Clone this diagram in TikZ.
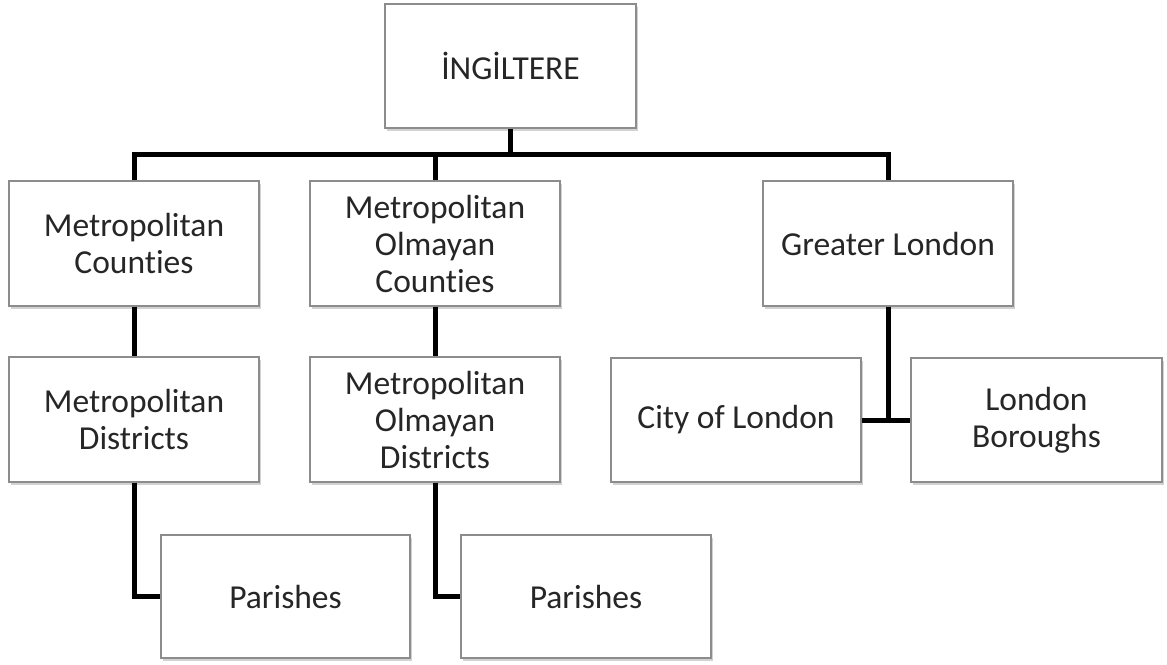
\documentclass[tikz,border=0pt]{standalone}
\usepackage{fontspec}
\setmainfont{Carlito}[Ligatures={NoCommon}]
\usetikzlibrary{shadows}
\tikzset{
  box/.style={draw=black!45, line width=1.2pt, fill=white, align=center,
    inner sep=0pt, minimum width=250pt, minimum height=125pt,
    font=\fontsize{33.5pt}{37pt}\selectfont, text=black!85,
    drop shadow={shadow xshift=1.5pt, shadow yshift=-2.5pt, opacity=0.25, fill=black!70}},
  conn/.style={draw=black, line width=5pt}
}
\begin{document}
\begin{tikzpicture}[x=1pt,y=-1pt]
\useasboundingbox (0,0) rectangle (1167,664);
\node[box, minimum width=251pt, minimum height=124pt] (root) at (510.5,66) {İNGİLTERE};
\node[box] (mc) at (134,243.5) {Metropolitan\\Counties};
\node[box] (mo) at (435,243.5) {Metropolitan\\Olmayan\\Counties};
\node[box] (gl) at (888,243.5) {Greater London};
\node[box] (md) at (134,419.5) {Metropolitan\\Districts};
\node[box] (mod) at (435,419.5) {Metropolitan\\Olmayan\\Districts};
\node[box, minimum height=124pt] (col) at (736,420) {City of London};
\node[box, minimum width=251pt, minimum height=124pt] (lb) at (1036.5,420) {London\\Boroughs};
\node[box, minimum width=249pt, minimum height=123pt] (p1) at (285.5,596.5) {Parishes};
\node[box, minimum height=123pt] (p2) at (586,596.5) {Parishes};
\coordinate (bus) at (0,154);
\draw[conn] (root.south) -- (root.south |- bus);
\draw[conn] (mc.north) -- (mc.north |- bus) -- (gl.north |- bus) -- (gl.north);
\draw[conn] (mo.north) -- (mo.north |- bus);
\draw[conn] (mc.south) -- (md.north);
\draw[conn] (mo.south) -- (mod.north);
\draw[conn] (md.south) |- (p1.west);
\draw[conn] (mod.south) |- (p2.west);
\draw[conn] (gl.south) -- (gl.south |- col.east);
\draw[conn] (col.east) -- (lb.west);
\end{tikzpicture}
\end{document}
